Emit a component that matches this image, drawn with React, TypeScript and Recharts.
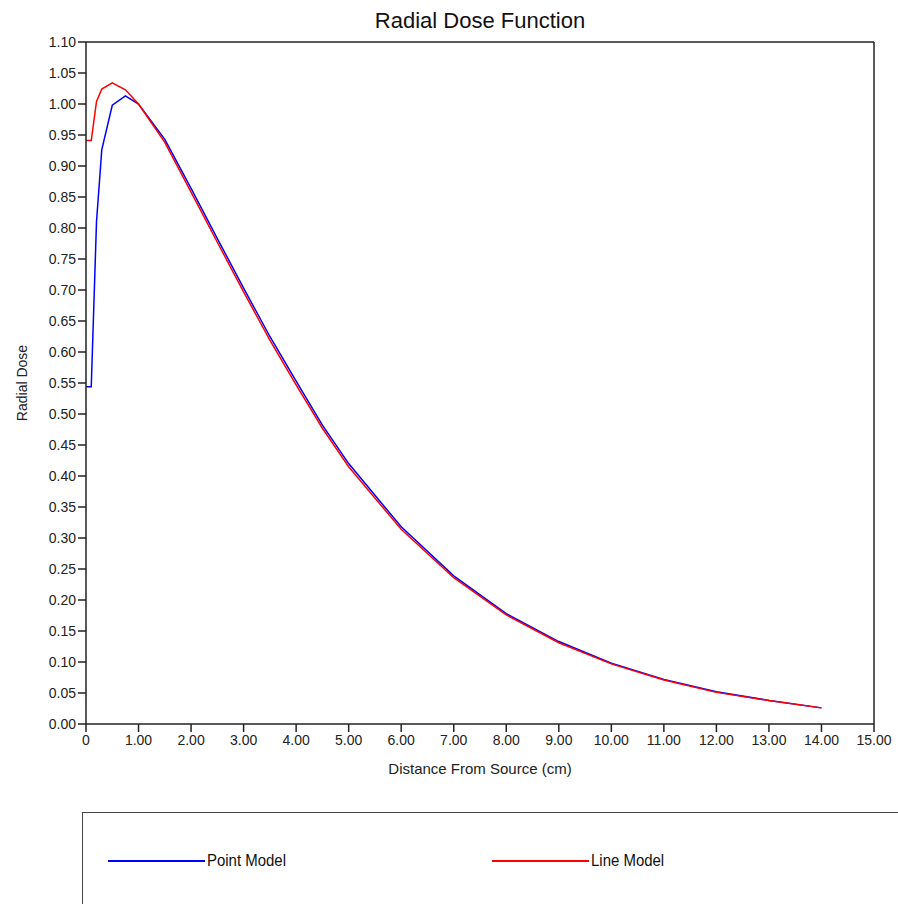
import React from 'react';
import {LineChart, Line, XAxis, YAxis, ReferenceLine, Legend} from 'recharts';

// distance from source (cm)
const distance = [0, 0.1, 0.2, 0.3, 0.5, 0.75, 1, 1.5, 2, 2.5, 3, 3.5, 4, 4.5, 5, 6, 7, 8, 9, 10, 11, 12, 13, 14];

const pointModel = [0.544, 0.544, 0.81, 0.926, 0.998, 1.013, 1.0, 0.943, 0.864, 0.783, 0.703, 0.625, 0.553, 0.482, 0.42, 0.318, 0.239, 0.178, 0.133, 0.098, 0.072, 0.052, 0.038, 0.026];
const lineModel = [0.941, 0.941, 1.004, 1.024, 1.034, 1.023, 1.0, 0.938, 0.858, 0.777, 0.697, 0.619, 0.547, 0.477, 0.415, 0.314, 0.236, 0.176, 0.131, 0.097, 0.071, 0.051, 0.038, 0.026];

const xTicks = [0, 1, 2, 3, 4, 5, 6, 7, 8, 9, 10, 11, 12, 13, 14, 15];
const yTicks = [0, 0.05, 0.1, 0.15, 0.2, 0.25, 0.3, 0.35, 0.4, 0.45, 0.5, 0.55, 0.6, 0.65, 0.7, 0.75, 0.8, 0.85, 0.9, 0.95, 1.0, 1.05, 1.1];

const seriesInfo = [
    {key: 'point', label: 'Point Model', color: '#0000ff'},
    {key: 'line', label: 'Line Model', color: '#ff0000'},
];

const data = distance.map((r, i) => ({r, point: pointModel[i], line: lineModel[i]}));

const font = 'Liberation Sans, Arial, sans-serif';
const axisColor = '#222';

const LegendBox = () => (
    <div style={{
        position: 'relative', width: 830, height: 110, border: '1.5px solid #444',
        boxSizing: 'border-box', background: '#fff',
    }}>
        {seriesInfo.map((s, i) => (
            <div key={s.key} style={{position: 'absolute', left: i === 0 ? 25 : 409, top: 38, display: 'flex', alignItems: 'center'}}>
                <div style={{width: 97, height: 2, background: s.color}}/>
                <span style={{
                    fontFamily: 'Liberation Sans Narrow, Liberation Sans, Arial, sans-serif', fontSize: 17, color: '#111',
                    marginLeft: 2, display: 'inline-block', transform: 'scaleX(0.88)', transformOrigin: 'left center',
                }}>
                    {s.label}
                </span>
            </div>
        ))}
    </div>
);

export default function App() {
    return (
        <div style={{position: 'absolute', left: 0, top: 0, width: 898, height: 904, overflow: 'hidden', background: '#fff'}}>
            <div style={{
                position: 'absolute', left: 86, width: 788, top: 8, textAlign: 'center',
                fontFamily: font, fontSize: 22, color: '#111',
            }}>
                Radial Dose Function
            </div>
            <LineChart
                width={898}
                height={904}
                data={data}
                margin={{top: 42, right: 24, left: 16, bottom: 150}}
            >
                <XAxis
                    dataKey="r"
                    type="number"
                    domain={[0, 15]}
                    ticks={xTicks}
                    interval={0}
                    height={30}
                    tickSize={8}
                    tickMargin={3}
                    stroke={axisColor}
                    strokeWidth={1.5}
                    tick={{fill: '#222', fontSize: 14, fontFamily: font}}
                    tickFormatter={(v: number) => (v === 0 ? '0' : v.toFixed(2))}
                    label={{value: 'Distance From Source (cm)', position: 'bottom', offset: 9, fill: '#222', fontSize: 15, fontFamily: font}}
                />
                <YAxis
                    type="number"
                    domain={[0, 1.1]}
                    ticks={yTicks}
                    interval={0}
                    width={70}
                    tickSize={8}
                    stroke={axisColor}
                    strokeWidth={1.5}
                    tick={{fill: '#222', fontSize: 14, fontFamily: font}}
                    tickFormatter={(v: number) => v.toFixed(2)}
                    label={{value: 'Radial Dose', angle: -90, position: 'insideLeft', offset: 6, fill: '#222', fontSize: 14, fontFamily: font, style: {textAnchor: 'middle'}}}
                />
                <ReferenceLine y={1.1} stroke={axisColor} strokeWidth={1.5}/>
                <ReferenceLine x={15} stroke={axisColor} strokeWidth={1.5}/>
                {seriesInfo.map(s => (
                    <Line
                        key={s.key}
                        type="linear"
                        dataKey={s.key}
                        name={s.label}
                        stroke={s.color}
                        strokeWidth={1.5}
                        dot={false}
                        activeDot={false}
                        isAnimationActive={false}
                    />
                ))}
                <Legend
                    layout="horizontal"
                    verticalAlign="middle"
                    align="center"
                    wrapperStyle={{left: 82, top: 812, width: 830, height: 110}}
                    content={() => <LegendBox/>}
                />
            </LineChart>
        </div>
    );
}
